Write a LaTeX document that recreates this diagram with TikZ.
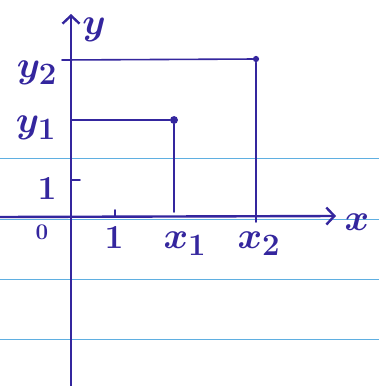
\documentclass[tikz,border=0pt]{standalone}
\usepackage{amsmath}
\usepackage{graphicx}
\usepackage{xcolor}
\usepackage{tikz}
\usetikzlibrary{arrows.meta}
\definecolor{ink}{RGB}{52,38,158}
\definecolor{paperline}{RGB}{95,175,225}
\newcommand{\hand}[2][1.5]{\scalebox{#1}{\Huge\boldmath$#2$}}

\begin{document}
\begin{tikzpicture}[x=1pt,y=-1pt,>={Straight Barb[length=8pt,width=17pt]},ink,line cap=round,
  lbl/.style={inner sep=0pt}]
\useasboundingbox[fill=white] (0,0) rectangle (379,386);
% ruled paper
\foreach \yy in {158,219,279,339}
  \draw[paperline,line width=0.8pt] (0,\yy) -- (379,\yy);

\coordinate (xs) at (0,217);
\coordinate (xe) at (336,216);
\coordinate (ys) at (71,386);
\coordinate (ye) at (71,14);
\draw[->,line width=2.4pt] (xs) -- (xe);
\draw[->,line width=2.4pt] (ys) -- (ye);
\node[lbl] (xl) at (357,222) {\hand{x}};
\node[lbl] (yl) at (94,30) {\hand{y}};

% ticks
\coordinate (t1) at (71,180);
\coordinate (t2) at (80,180);
\coordinate (t3) at (115,210);
\coordinate (t4) at (115,217);
\draw[line width=1.6pt] (t1) -- (t2);
\draw[line width=1.6pt] (t3) -- (t4);
\node[lbl] (zero) at (42,232) {\hand[0.9]{0}};
\node[lbl] (onex) at (114,238) {\hand[1.35]{1}};
\node[lbl] (oney) at (47,189) {\hand[1.35]{1}};

\node[fill,circle,inner sep=2.8pt] (p) at (174,120) {};
\node[fill,circle,inner sep=2.2pt] (q) at (256,59) {};
\coordinate (py) at (71,120);
\coordinate (px) at (174,212);
\coordinate (qy) at (62,60);
\coordinate (qx) at (256,222);
\draw[line width=1.6pt] (py) -- (p) -- (px);
\draw[line width=1.6pt] (qy) -- (q) -- (qx);

\node[lbl] (xa) at (185,244) {\hand{x_1}};
\node[lbl] (xb) at (259,244) {\hand{x_2}};
\node[lbl] (ya) at (36,128) {\hand{y_1}};
\node[lbl] (yb) at (37,73) {\hand{y_2}};
\end{tikzpicture}
\end{document}
